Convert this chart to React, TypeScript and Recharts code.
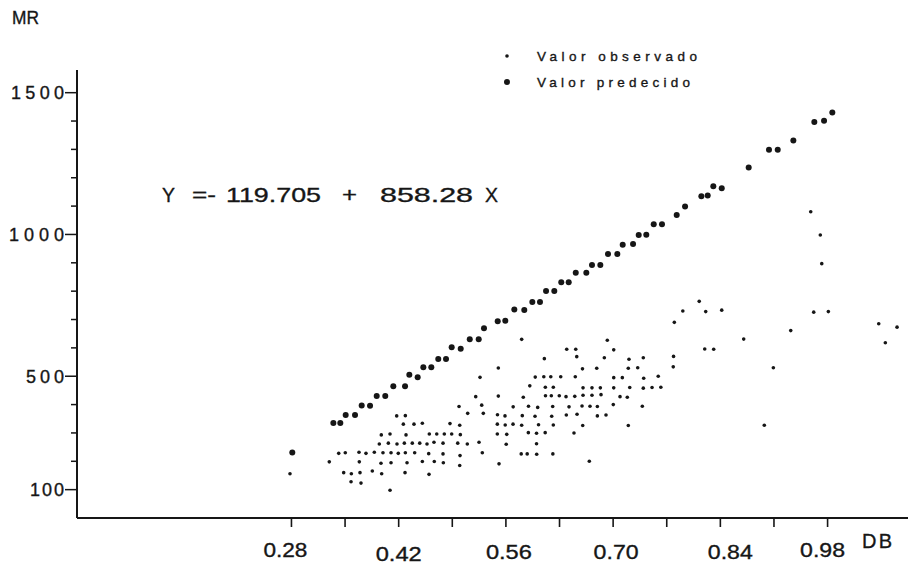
import React from 'react';
import { ScatterChart, Scatter, XAxis, YAxis } from 'recharts';

const INK = '#161616';
const FONT = '"Liberation Sans", Arial, sans-serif';

// ---- data (DB on x, MR on y) ----
const xTicks = [0.28, 0.35, 0.42, 0.49, 0.56, 0.63, 0.7, 0.77, 0.84, 0.91, 0.98];
const xTickLabels = ['0.28', '0.42', '0.56', '0.70', '0.84', '0.98'];
const yTicks = [100, 200, 300, 400, 500, 600, 700, 800, 900, 1000, 1100, 1200, 1300, 1400, 1500];
const yTickLabels = [100, 500, 1000, 1500];

const predictedPoints: [number, number][] = [
  [0.2811, 231], [0.3347, 335], [0.3438, 335], [0.3508, 363], [0.363, 363], [0.3717, 397],
  [0.3826, 396], [0.3913, 430], [0.4025, 430], [0.413, 465], [0.4283, 465], [0.4339, 505],
  [0.4448, 496], [0.4522, 532], [0.4626, 532], [0.4717, 561], [0.4818, 561], [0.4892, 602],
  [0.501, 597], [0.5128, 630], [0.5245, 630], [0.5314, 669], [0.5493, 694], [0.5592, 696],
  [0.571, 735], [0.584, 734], [0.5945, 762], [0.6045, 762], [0.6124, 801], [0.6232, 801],
  [0.6323, 831], [0.642, 831], [0.6512, 865], [0.665, 865], [0.6724, 892], [0.6833, 892],
  [0.6933, 931], [0.7055, 931], [0.7125, 964], [0.726, 966], [0.7334, 998], [0.7433, 999],
  [0.753, 1036], [0.7638, 1036], [0.783, 1069], [0.7939, 1099], [0.8152, 1135], [0.8235, 1137],
  [0.8308, 1170], [0.8418, 1163], [0.877, 1236], [0.9035, 1299], [0.9149, 1299], [0.9353, 1331],
  [0.9627, 1397], [0.9754, 1401], [0.9862, 1430],
];

const observedPoints: [number, number][] = [
  [0.5206, 428], [0.5501, 430], [0.4988, 393], [0.5101, 369], [0.5305, 369], [0.549, 364],
  [0.4174, 360], [0.4287, 361], [0.4261, 331], [0.44, 331], [0.4509, 334], [0.487, 333],
  [0.4997, 327], [0.5488, 331], [0.3973, 293], [0.4087, 296], [0.4296, 293], [0.46, 296],
  [0.4697, 296], [0.4796, 296], [0.4892, 296], [0.5005, 294], [0.5488, 296], [0.3947, 261],
  [0.4065, 264], [0.4178, 261], [0.4274, 264], [0.4378, 264], [0.4475, 264], [0.457, 261],
  [0.4661, 267], [0.4779, 264], [0.4971, 264], [0.5096, 261], [0.5249, 267], [0.3417, 228],
  [0.3503, 230], [0.3682, 232], [0.3773, 228], [0.3882, 232], [0.3995, 230], [0.41, 230],
  [0.4195, 228], [0.4287, 230], [0.4409, 230], [0.4592, 227], [0.4779, 226], [0.5001, 220],
  [0.5292, 230], [0.3294, 198], [0.3686, 198], [0.3969, 193], [0.41, 195], [0.4309, 195],
  [0.4509, 199], [0.4665, 199], [0.4783, 195], [0.4997, 185], [0.551, 191], [0.2781, 156],
  [0.3482, 160], [0.3582, 156], [0.3695, 160], [0.3856, 166], [0.3978, 156], [0.4283, 160],
  [0.4596, 154], [0.3578, 128], [0.3708, 123], [0.4087, 98],
  [0.5806, 630], [0.6924, 627], [0.6102, 562], [0.6394, 595], [0.6512, 595], [0.7008, 593],
  [0.6525, 569], [0.6885, 565], [0.7207, 560], [0.7394, 565], [0.5501, 529], [0.66, 526],
  [0.6786, 528], [0.7198, 528], [0.7321, 530], [0.5262, 496], [0.5983, 497], [0.6095, 498],
  [0.6186, 498], [0.6316, 498], [0.6506, 498], [0.7008, 495], [0.712, 495], [0.7399, 493],
  [0.7589, 500], [0.5912, 466], [0.6115, 461], [0.6219, 461], [0.6607, 459], [0.6724, 459],
  [0.6833, 459], [0.7008, 459], [0.7217, 460], [0.7394, 458], [0.7508, 460], [0.7623, 461],
  [0.5827, 426], [0.6117, 431], [0.6193, 431], [0.6297, 431], [0.6385, 428], [0.6499, 429],
  [0.6607, 433], [0.6724, 433], [0.6842, 435], [0.709, 428], [0.7185, 426], [0.5284, 398],
  [0.5695, 392], [0.5895, 394], [0.6015, 390], [0.6211, 393], [0.6424, 392], [0.6594, 395],
  [0.6698, 394], [0.6794, 393], [0.7002, 400], [0.7381, 394], [0.5588, 360], [0.5814, 361],
  [0.598, 359], [0.6198, 359], [0.6389, 363], [0.6529, 366], [0.6794, 360], [0.6907, 363],
  [0.5591, 328], [0.5693, 331], [0.5806, 327], [0.6026, 329], [0.6219, 328], [0.6603, 326],
  [0.7198, 326], [0.5611, 295], [0.5893, 301], [0.6, 299], [0.6113, 301], [0.6489, 300],
  [0.5604, 260], [0.6, 262], [0.58, 226], [0.5878, 226], [0.6002, 225], [0.6213, 226],
  [0.6689, 200], [0.7789, 570], [0.7785, 533], [0.7799, 690], [0.791, 730], [0.8124, 764],
  [0.958, 1080], [0.9705, 998], [0.9724, 897], [0.8209, 728], [0.8418, 733], [0.9619, 726],
  [0.981, 728], [1.0468, 685], [1.0707, 673], [1.0554, 618], [0.9319, 661], [0.8705, 631],
  [0.8196, 596], [0.8313, 595], [0.9092, 530], [0.8974, 327],
];

const legendLabels = ['Valor observado', 'Valor predecido'];
const equationParts = ['Y', '=-', '119.705', '+', '858.28', 'X'];
const xAxisTitle = 'DB';
const yAxisTitle = 'MR';

// ---- styles ----
const xLabelStyle: Record<string, { dx: number; dy: number; len: number }> = {
  '0.28': { dx: -6, dy: 39, len: 44 },
  '0.42': { dx: 0, dy: 43, len: 46 },
  '0.56': { dx: 3, dy: 41, len: 46 },
  '0.70': { dx: 3, dy: 41, len: 45 },
  '0.84': { dx: 10, dy: 41, len: 45 },
  '0.98': { dx: -5, dy: 39, len: 45 },
};
const yLabelStyle: Record<number, { len: number }> = {
  1500: { len: 53 },
  1000: { len: 55 },
  500: { len: 38 },
  100: { len: 34 },
};
const eqStyle = [
  { x: 162, len: 13 },
  { x: 192, len: 24 },
  { x: 226, len: 95 },
  { x: 342, len: 15 },
  { x: 380, len: 93 },
  { x: 485, len: 13 },
];
const textStroke = { stroke: INK, strokeWidth: 0.35 };

const observed = observedPoints.map(([x, y]) => ({ x, y }));
const predicted = predictedPoints.map(([x, y]) => ({ x, y }));

const XTick = (props: any) => {
  const { x, y, payload } = props;
  const key = Number(payload.value).toFixed(2);
  const st = xTickLabels.includes(key) ? xLabelStyle[key] : null;
  return (
    <g>
      <line x1={x} y1={y} x2={x} y2={y + 9} stroke={INK} strokeWidth={1.6} />
      {st && (
        <text x={x + st.dx} y={y + st.dy} textAnchor="middle" fontSize={20} fontFamily={FONT} fill={INK}
          {...textStroke} textLength={st.len} lengthAdjust="spacingAndGlyphs">{key}</text>
      )}
    </g>
  );
};

const YTick = (props: any) => {
  const { x, y, payload } = props;
  const v = Number(payload.value);
  const labeled = yTickLabels.includes(v);
  const len = labeled ? 12 : 6;
  const st = yLabelStyle[v];
  return (
    <g>
      <line x1={x - len} y1={y} x2={x} y2={y} stroke={INK} strokeWidth={1.5} />
      {labeled && st && (
        <text x={x - 13 - st.len} y={y + 6.5} textAnchor="start" fontSize={18} fontFamily={FONT} fill={INK}
          {...textStroke} textLength={st.len} lengthAdjust="spacing">{String(v)}</text>
      )}
    </g>
  );
};

const SmallDot = (p: any) => <circle cx={p.cx} cy={p.cy} r={1.8} fill={INK} />;
const BigDot = (p: any) => <circle cx={p.cx} cy={p.cy} r={3} fill={INK} />;

export default function App() {
  return (
    <div style={{ position: 'absolute', left: 0, top: 0, width: 908, height: 566, background: '#fff', overflow: 'hidden' }}>
      <ScatterChart width={908} height={566} margin={{ top: 70, right: 0, bottom: 0, left: 0 }}>
        <XAxis
          type="number"
          dataKey="x"
          domain={[0, 1.085]}
          ticks={xTicks}
          interval={0}
          height={48}
          tickSize={0}
          tickMargin={0}
          tickLine={false}
          axisLine={{ stroke: INK, strokeWidth: 2 }}
          tick={<XTick />}
          allowDataOverflow
        />
        <YAxis
          type="number"
          dataKey="y"
          domain={[0, 1580]}
          ticks={yTicks}
          interval={0}
          width={77}
          tickSize={0}
          tickMargin={0}
          tickLine={false}
          axisLine={{ stroke: INK, strokeWidth: 2 }}
          tick={<YTick />}
          allowDataOverflow
        />
        <Scatter name="Valor observado" data={observed} shape={SmallDot} isAnimationActive={false} />
        <Scatter name="Valor predecido" data={predicted} shape={BigDot} isAnimationActive={false} />
      </ScatterChart>
      <svg width={908} height={566} style={{ position: 'absolute', left: 0, top: 0, pointerEvents: 'none' }}>
        <text x={12} y={24} fontSize={19} fontFamily={FONT} fill={INK} {...textStroke} textLength={27} lengthAdjust="spacingAndGlyphs">{yAxisTitle}</text>
        <text x={862} y={548} fontSize={20} fontFamily={FONT} fill={INK} {...textStroke} textLength={30} lengthAdjust="spacing">{xAxisTitle}</text>
        <circle cx={507} cy={56} r={1.8} fill={INK} />
        <text x={537} y={60.5} fontSize={13.5} fontFamily={FONT} fill={INK} {...textStroke} textLength={160} lengthAdjust="spacing">{legendLabels[0]}</text>
        <circle cx={507} cy={82} r={3} fill={INK} />
        <text x={537} y={86.5} fontSize={13.5} fontFamily={FONT} fill={INK} {...textStroke} textLength={153} lengthAdjust="spacing">{legendLabels[1]}</text>
        {equationParts.map((t, i) => (
          <text key={i} x={eqStyle[i].x} y={201.5} fontSize={21} fontFamily={FONT} fill={INK} {...textStroke}
            textLength={eqStyle[i].len} lengthAdjust="spacingAndGlyphs">{t}</text>
        ))}
      </svg>
    </div>
  );
}
